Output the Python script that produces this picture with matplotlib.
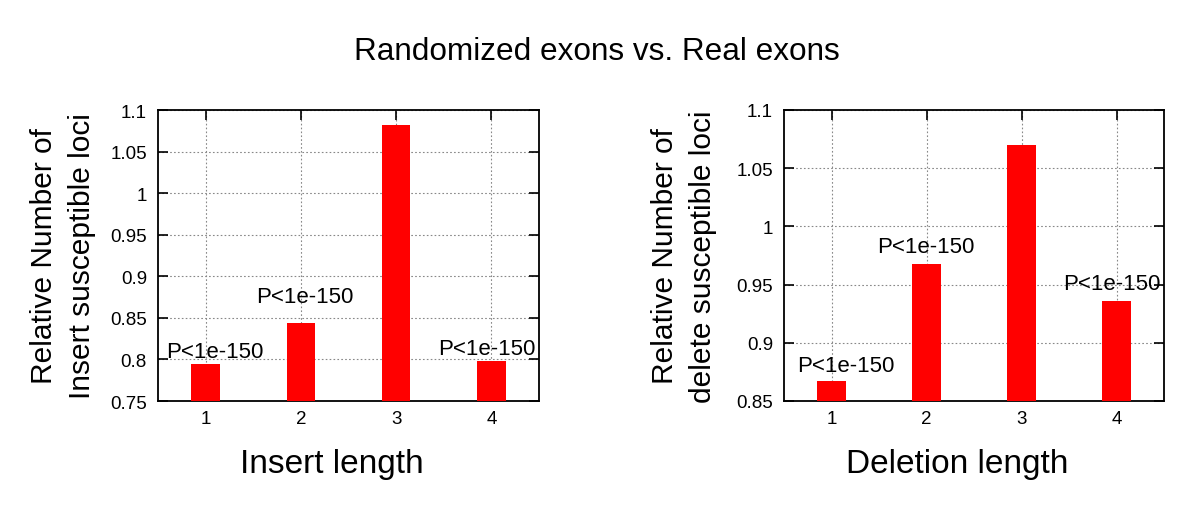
import matplotlib
matplotlib.use("Agg")
import matplotlib.pyplot as plt
from matplotlib.ticker import FormatStrFormatter, MultipleLocator

plt.rcParams['font.family'] = ['Liberation Sans', 'DejaVu Sans']

lengths = [1, 2, 3, 4]
insert_values = [0.795, 0.844, 1.082, 0.798]
delete_values = [0.867, 0.968, 1.070, 0.936]
pval_text = "P<1e-150"
insert_labels = [(1.10, 0.803), (2.04, 0.869), (3.95, 0.807)]
delete_labels = [(1.15, 0.876), (1.99, 0.978), (3.95, 0.946)]

fig = plt.figure(figsize=(12, 5.1), dpi=100)
fig.text(597 / 1200, 1 - 52 / 510, "Randomized exons vs. Real exons", ha='center', va='center', fontsize=22.7)

def panel(rect, values, ylim, ylabel, xlabel, labels, ylab_x):
    ax = fig.add_axes(rect)
    ax.bar(lengths, values, width=0.3, color='#ff0000', edgecolor='none', zorder=3)
    ax.set_xlim(0.5, 4.5)
    ax.set_ylim(*ylim)
    ax.set_xticks(lengths)
    ax.yaxis.set_major_locator(MultipleLocator(0.05))
    ax.yaxis.set_major_formatter(FormatStrFormatter('%g'))
    ax.grid(True, color='#888888', linestyle=(0, (1.5, 2)), linewidth=0.8, zorder=0)
    ax.tick_params(direction='in', top=True, right=True, length=7, width=1.2,
                   labelsize=13.5)
    ax.tick_params(axis='x', pad=6.5)
    ax.tick_params(axis='y', pad=8)
    for s in ax.spines.values():
        s.set_linewidth(1.3)
    ax.set_ylabel(ylabel, fontsize=21.5, linespacing=1.45, va='center')
    ax.yaxis.set_label_coords(ylab_x, 0.5)
    ax.set_xlabel(xlabel, fontsize=24)
    ax.xaxis.set_label_coords(0.455, -0.162)
    for x, y in labels:
        ax.text(x, y, pval_text, ha='center', va='baseline', fontsize=16, zorder=4)
    return ax

h = (402 - 111) / 510
b = (510 - 402) / 510
panel([158 / 1200, b, 381 / 1200, h], insert_values, (0.75, 1.1),
      "Relative Number of\nInsert susceptible loci", "Insert length", insert_labels,
      (63 - 158) / 381)
panel([784 / 1200, b, 380 / 1200, h], delete_values, (0.85, 1.1),
      "Relative Number of\ndelete susceptible loci", "Deletion length", delete_labels,
      (684 - 784) / 380)

fig.savefig("out.png", dpi=100)
